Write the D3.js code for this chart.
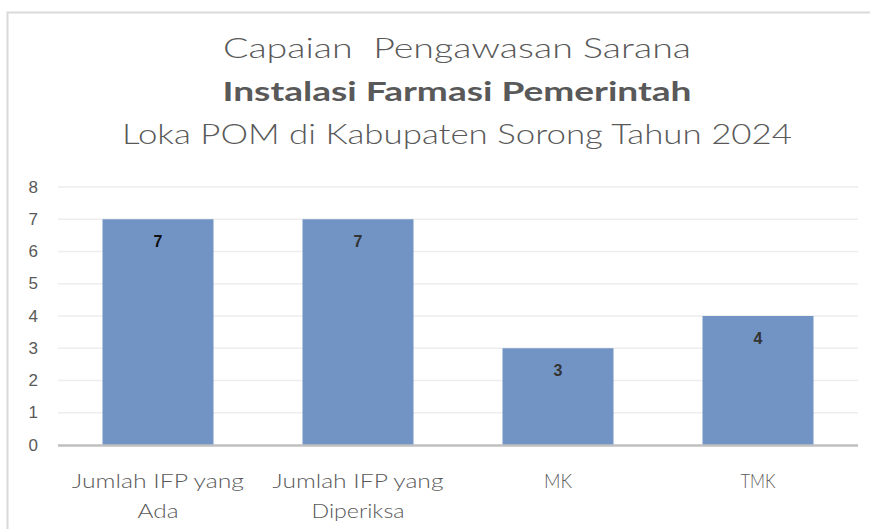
<!DOCTYPE html>
<meta charset="utf-8">
<style>
  body { margin: 0; background: #fff; }
  svg text { fill: #595959; }
</style>
<div id="chart"></div>
<script src="https://d3js.org/d3.v7.min.js"></script>
<script>
// data
var categories = [["Jumlah IFP yang", "Ada"], ["Jumlah IFP yang", "Diperiksa"], ["MK"], ["TMK"]];
var values = [7, 7, 3, 4];
var yTicks = [0, 1, 2, 3, 4, 5, 6, 7, 8];
var titleLines = ["Capaian  Pengawasan Sarana", "Instalasi Farmasi Pemerintah", "Loka POM di Kabupaten Sorong Tahun 2024"];

var W = 870, H = 529;
var margin = {top: 187, right: 12, bottom: 84, left: 58};

var svg = d3.select("#chart").append("svg")
  .attr("width", W)
  .attr("height", H);

// chart area frame (only top and left edge visible)
svg.append("path")
  .attr("d", "M7.5,540 L7.5,12.5 L875,12.5")
  .attr("fill", "none")
  .attr("stroke", "#d9d9d9")
  .attr("stroke-width", 2);

// title
var titleFont = "'Lato', 'Open Sans', sans-serif";
var titleY = [47, 90, 133];
var titleW = [468, 469, 670];
titleLines.forEach(function(t, i) {
  svg.append("text")
    .attr("x", 457)
    .attr("y", titleY[i])
    .attr("text-anchor", "middle")
    .attr("dominant-baseline", "central")
    .style("white-space", "pre")
    .style("font-family", titleFont)
    .style("font-size", "27px")
    .style("font-weight", i === 1 ? 700 : 300)
    .attr("textLength", titleW[i])
    .attr("lengthAdjust", "spacingAndGlyphs")
    .text(t);
});

var x = d3.scaleBand()
  .domain(d3.range(categories.length))
  .range([margin.left, 858])
  .paddingInner(0.445)
  .paddingOuter(0.2225);

var y = d3.scaleLinear()
  .domain([0, 8])
  .range([445, 187]);

// gridlines
svg.append("g").selectAll("line")
  .data(yTicks.filter(function(d) { return d > 0; }))
  .enter().append("line")
  .attr("x1", margin.left)
  .attr("x2", 858)
  .attr("y1", function(d) { return y(d); })
  .attr("y2", function(d) { return y(d); })
  .attr("stroke", "#ededed")
  .attr("stroke-width", 1.5);

// y axis labels
svg.append("g").selectAll("text")
  .data(yTicks)
  .enter().append("text")
  .attr("x", 38)
  .attr("y", function(d) { return y(d); })
  .attr("text-anchor", "end")
  .attr("dominant-baseline", "central")
  .style("font-family", "'Liberation Sans', Arial, sans-serif")
  .style("font-size", "17px")
  .text(function(d) { return d; });

// bars
svg.append("g").selectAll("rect")
  .data(values)
  .enter().append("rect")
  .attr("x", function(d, i) { return x(i); })
  .attr("y", function(d) { return y(d); })
  .attr("width", x.bandwidth())
  .attr("height", function(d) { return y(0) - y(d); })
  .attr("fill", "#7294c5");

// baseline
svg.append("line")
  .attr("x1", margin.left)
  .attr("x2", 858)
  .attr("y1", y(0) + 0.5)
  .attr("y2", y(0) + 0.5)
  .attr("stroke", "#bfbfbf")
  .attr("stroke-width", 2.5);

// value labels
svg.append("g").selectAll("text")
  .data(values)
  .enter().append("text")
  .attr("x", function(d, i) { return x(i) + x.bandwidth() / 2; })
  .attr("y", function(d) { return y(d) + 22; })
  .attr("text-anchor", "middle")
  .attr("dominant-baseline", "central")
  .style("font-family", "'Liberation Sans', Arial, sans-serif")
  .style("font-size", "16px")
  .style("font-weight", 700)
  .style("fill", function(d, i) { return i === 0 ? "#111" : "#333"; })
  .text(function(d) { return d; });

// category labels (widths stretched to look like the wide original font)
var catW = [[172, 41], [171, 93], [28], [35]];
var cat = svg.append("g").selectAll("text")
  .data(categories)
  .enter().append("text")
  .attr("x", function(d, i) { return x(i) + x.bandwidth() / 2; })
  .attr("y", 480)
  .attr("text-anchor", "middle")
  .attr("dominant-baseline", "central")
  .style("font-family", titleFont)
  .style("font-size", "19px")
  .style("font-weight", 300);

cat.each(function(d, i) {
  var t = d3.select(this);
  d.forEach(function(line, j) {
    t.append("tspan")
      .attr("x", t.attr("x"))
      .attr("dy", j === 0 ? 0 : 30)
      .attr("textLength", catW[i][j])
      .attr("lengthAdjust", "spacingAndGlyphs")
      .text(line);
  });
});
</script>
